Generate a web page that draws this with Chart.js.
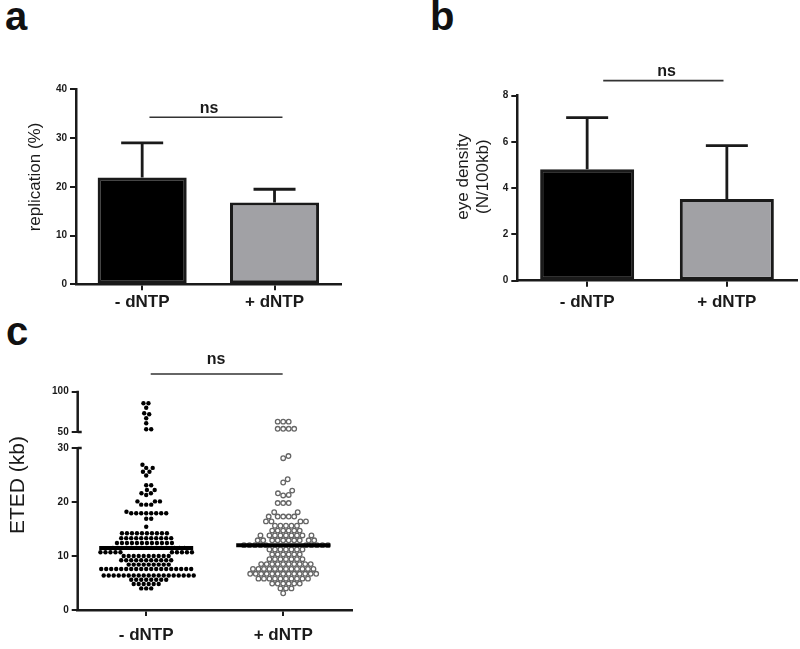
<!DOCTYPE html>
<html>
<head>
<meta charset="utf-8">
<script src="https://cdn.jsdelivr.net/npm/chart.js@4.4.0/dist/chart.umd.min.js"></script>
<style>
  body { margin: 0; background: #fff; width: 800px; height: 649px; overflow: hidden; position: relative;
         font-family: "Liberation Sans", Arial, sans-serif; }
  .tag { position: absolute; font-weight: bold; font-size: 40px; line-height: 1; color: #111; }
  .panel { position: absolute; }
</style>
</head>
<body>
<div class="tag" style="left:5px;top:-4px">a</div>
<div class="tag" style="left:430px;top:-4px">b</div>
<div class="tag" style="left:6px;top:311px">c</div>

<div class="panel" style="left:0;top:60px"><canvas id="chartA" width="400" height="270"></canvas></div>
<div class="panel" style="left:420px;top:60px"><canvas id="chartB" width="380" height="270"></canvas></div>
<div class="panel" style="left:0;top:340px"><canvas id="chartC" width="400" height="309"></canvas></div>

<script>
const categories = ['- dNTP', '+ dNTP'];

// a: replication (%), mean and SD
const replicationMean = [21.9, 16.8];
const replicationSD = [7.1, 2.7];
const replicationTicks = [0, 10, 20, 30, 40];

// b: eye density (N/100kb), mean and SD
const eyeMean = [4.82, 3.53];
const eyeSD = [2.23, 2.31];
const eyeTicks = [0, 2, 4, 6, 8];

// c: ETED (kb), one value per measured distance
const etedMinus = [
  85.6, 85.6, 80.1, 73.2, 72.0, 67.0, 60.8, 53.3, 53.3,
  26.9, 26.3, 26.3, 25.6, 25.6, 24.9,
  23.1, 23.1,
  22.2, 22.2, 21.6, 21.6, 21.3,
  20.1, 20.1, 20.1, 19.5, 19.5, 19.5,
  18.2,
  17.9, 17.9, 17.9, 17.9, 17.9, 17.9, 17.9, 17.9,
  16.9, 16.9,
  15.4,
  14.2, 14.2, 14.2, 14.2, 14.2, 14.2, 14.2, 14.2, 14.2, 14.2,
  13.3, 13.3, 13.3, 13.3, 13.3, 13.3, 13.3, 13.3, 13.3, 13.3, 13.3,
  12.4, 12.4, 12.4, 12.4, 12.4, 12.4, 12.4, 12.4, 12.4, 12.4, 12.4, 12.4,
  11.5, 11.5, 11.5, 11.5, 11.5, 11.5, 11.5, 11.5, 11.5, 11.5, 11.5, 11.5, 11.5, 11.5,
  10.7, 10.7, 10.7, 10.7, 10.7, 10.7, 10.7, 10.7, 10.7, 10.7,
  10.0, 10.0, 10.0, 10.0, 10.0, 10.0, 10.0, 10.0, 10.0, 10.0,
  9.2, 9.2, 9.2, 9.2, 9.2, 9.2, 9.2, 9.2, 9.2, 9.2, 9.2,
  8.4, 8.4, 8.4, 8.4, 8.4, 8.4, 8.4, 8.4, 8.4,
  7.6, 7.6, 7.6, 7.6, 7.6, 7.6, 7.6, 7.6, 7.6, 7.6, 7.6, 7.6, 7.6, 7.6, 7.6, 7.6, 7.6, 7.6, 7.6,
  6.4, 6.4, 6.4, 6.4, 6.4, 6.4, 6.4, 6.4, 6.4, 6.4, 6.4, 6.4, 6.4, 6.4, 6.4, 6.4, 6.4, 6.4, 6.4,
  5.6, 5.6, 5.6, 5.6, 5.6, 5.6, 5.6, 5.6,
  4.8, 4.8, 4.8, 4.8, 4.8, 4.8,
  4.0, 4.0, 4.0
];
const etedPlus = [
  62.8, 62.8, 62.8, 53.9, 53.9, 53.9, 53.9,
  28.5, 28.1,
  24.2, 23.6,
  22.1, 21.6, 21.3, 21.2,
  19.8, 19.8, 19.8,
  18.1, 18.1,
  17.3, 17.3, 17.3, 17.3, 17.3,
  16.4, 16.4, 16.4, 16.4,
  15.6, 15.6, 15.6, 15.6, 15.6,
  14.7, 14.7, 14.7, 14.7, 14.7, 14.7,
  13.8, 13.8, 13.8, 13.8, 13.8, 13.8, 13.8, 13.8, 13.8,
  12.9, 12.9, 12.9, 12.9, 12.9, 12.9, 12.9, 12.9, 12.9, 12.9,
  12.0, 12.0, 12.0, 12.0, 12.0, 12.0, 12.0, 12.0, 12.0, 12.0,
  11.2, 11.2, 11.2, 11.2, 11.2, 11.2, 11.2,
  10.3, 10.3, 10.3, 10.3, 10.3, 10.3,
  9.4, 9.4, 9.4, 9.4, 9.4, 9.4, 9.4,
  8.5, 8.5, 8.5, 8.5, 8.5, 8.5, 8.5, 8.5, 8.5, 8.5,
  7.6, 7.6, 7.6, 7.6, 7.6, 7.6, 7.6, 7.6, 7.6, 7.6, 7.6, 7.6,
  6.7, 6.7, 6.7, 6.7, 6.7, 6.7, 6.7, 6.7, 6.7, 6.7, 6.7, 6.7, 6.7,
  5.8, 5.8, 5.8, 5.8, 5.8, 5.8, 5.8, 5.8, 5.8, 5.8,
  4.9, 4.9, 4.9, 4.9, 4.9, 4.9,
  4.0, 4.0, 4.0,
  3.1
];
const etedMedian = [11.5, 12.0];
const etedTicks = [0, 10, 20, 30, 50, 100];

const INK = '#1a1a1a';
const FONT = '"Liberation Sans", Arial, sans-serif';
Chart.defaults.font.family = FONT;
Chart.defaults.color = INK;
Chart.defaults.animation = false;

// broken y axis for panel c: 0-30 linear, then a gap, then 50-100 compressed
const BREAK_LOW = 30, BREAK_HIGH = 50, BREAK_TOP = 100;
const BREAK_GAP = 2.96;
const HIGH_SCALE = 0.149;
function toAxis(v) {
  return v <= BREAK_LOW ? v : BREAK_LOW + BREAK_GAP + (v - BREAK_HIGH) * HIGH_SCALE;
}

const deco = {
  id: 'deco',
  afterDatasetsDraw(chart, args, o) {
    const { ctx } = chart;
    const x = chart.scales.x, y = chart.scales.y;
    ctx.save();
    ctx.strokeStyle = INK;
    ctx.fillStyle = INK;

    if (o.sd) {
      const ds = chart.data.datasets[0];
      chart.getDatasetMeta(0).data.forEach((bar, i) => {
        const top = y.getPixelForValue(ds.data[i] + o.sd[i]);
        ctx.lineWidth = 2.8;
        ctx.beginPath();
        ctx.moveTo(bar.x, bar.y);
        ctx.lineTo(bar.x, top);
        ctx.moveTo(bar.x - o.cap, top);
        ctx.lineTo(bar.x + o.cap, top);
        ctx.stroke();
      });
    }

    if (o.broken) {
      const ax = chart.chartArea.left;
      ctx.lineWidth = 2.5;
      ctx.beginPath();
      [[0, BREAK_LOW], [BREAK_HIGH, BREAK_TOP]].forEach(([a, b]) => {
        ctx.moveTo(ax, y.getPixelForValue(toAxis(a)) + 1);
        ctx.lineTo(ax, y.getPixelForValue(toAxis(b)) - 1);
      });
      [BREAK_LOW, BREAK_HIGH].forEach(v => {
        const p = y.getPixelForValue(toAxis(v));
        ctx.moveTo(ax, p);
        ctx.lineTo(ax + 4, p);
      });
      ctx.stroke();
    }

    if (o.ns) {
      const ly = y.getPixelForValue(o.ns.y);
      ctx.strokeStyle = '#333';
      ctx.lineWidth = 1.6;
      ctx.beginPath();
      ctx.moveTo(x.getPixelForValue(o.ns.from), ly);
      ctx.lineTo(x.getPixelForValue(o.ns.to), ly);
      ctx.stroke();
      ctx.font = 'bold 16px ' + FONT;
      ctx.textAlign = 'center';
      ctx.textBaseline = 'alphabetic';
      ctx.fillText('ns', x.getPixelForValue(o.ns.textAt), ly - o.ns.lift);
    }

    if (o.title) {
      const t = o.title;
      ctx.font = t.size + 'px ' + FONT;
      ctx.textAlign = 'center';
      ctx.textBaseline = 'middle';
      t.lines.forEach((line, i) => {
        ctx.save();
        ctx.translate(t.x + i * t.lineHeight, t.y);
        ctx.rotate(-Math.PI / 2);
        ctx.fillText(line, 0, 0);
        ctx.restore();
      });
    }
    ctx.restore();
  }
};

function yAxis(ticks, max, width, pad) {
  return {
    min: 0, max,
    afterBuildTicks: s => { s.ticks = ticks.map(v => ({ value: v })); },
    afterFit: s => { s.width = width; },
    border: { color: INK, width: 2.5 },
    grid: { drawOnChartArea: false, drawTicks: true, tickLength: 6, color: INK, lineWidth: 2 },
    ticks: { font: { size: 10, weight: 'bold' }, padding: pad, color: INK }
  };
}

function xCategoryAxis(height, pad) {
  return {
    afterFit: s => { s.height = height; },
    border: { color: INK, width: 2.5 },
    grid: { offset: false, drawOnChartArea: false, drawTicks: true, tickLength: 6, color: INK, lineWidth: 2 },
    ticks: { font: { size: 17, weight: 'bold' }, padding: pad, color: INK, autoSkip: false, maxRotation: 0 }
  };
}

function barPanel(id, mean, sd, ticks, max, cfg) {
  return new Chart(document.getElementById(id), {
    type: 'bar',
    data: {
      labels: categories,
      datasets: [{
        data: mean,
        backgroundColor: ['#000000', '#a1a1a5'],
        borderColor: INK,
        borderWidth: 3,
        borderSkipped: false,
        barPercentage: 0.673,
        categoryPercentage: 1
      }]
    },
    options: {
      responsive: false,
      layout: { padding: cfg.padding },
      plugins: {
        legend: { display: false },
        tooltip: { enabled: false },
        deco: { sd, cap: 21, ns: cfg.ns, title: cfg.title }
      },
      scales: {
        x: xCategoryAxis(cfg.xHeight, cfg.xPad),
        y: yAxis(ticks, max, cfg.yWidth, 3)
      }
    },
    plugins: [deco]
  });
}

barPanel('chartA', replicationMean, replicationSD, replicationTicks, 40, {
  padding: { top: 29.3, right: 59.3, left: 0, bottom: 0 },
  yWidth: 76, xHeight: 45.7, xPad: 2,
  ns: { y: 34.26, from: 0.055, to: 1.06, textAt: 0.505, lift: 4 },
  title: { lines: ['replication (%)'], x: 35, y: 117, size: 17, lineHeight: 20 }
});

barPanel('chartB', eyeMean, eyeSD, eyeTicks, 8, {
  padding: { top: 35.7, right: 3.3, left: 0, bottom: 0 },
  yWidth: 97.3, xHeight: 49.3, xPad: 5.4,
  ns: { y: 8.65, from: 0.115, to: 0.976, textAt: 0.568, lift: 4.5 },
  title: { lines: ['eye density', '(N/100kb)'], x: 43, y: 116.7, size: 17, lineHeight: 20 }
});

// panel c: scatter dot plot with median
const MED_HALF = 0.343;
const chartC = new Chart(document.getElementById('chartC'), {
  type: 'scatter',
  data: {
    datasets: [
      ...etedMedian.map((m, i) => ({
        type: 'line',
        data: [{ x: i + 0.5 - MED_HALF, y: toAxis(m) }, { x: i + 0.5 + MED_HALF, y: toAxis(m) }],
        borderColor: '#000', borderWidth: 4, pointRadius: 0, order: 0
      })),
      {
        data: etedMinus.map(v => ({ x: 0.5, y: toAxis(v) })),
        pointRadius: 2.2, backgroundColor: '#000', borderWidth: 0, order: 1
      },
      {
        data: etedPlus.map(v => ({ x: 1.5, y: toAxis(v) })),
        pointRadius: 2.3, backgroundColor: '#fff', borderColor: '#666', borderWidth: 1.3, order: 1
      }
    ]
  },
  options: {
    responsive: false,
    layout: { padding: { top: 51.7, right: 48.3, left: 0, bottom: 0 } },
    plugins: {
      legend: { display: false },
      tooltip: { enabled: false },
      deco: {
        broken: true,
        ns: { y: 43.7, from: 0.533, to: 1.496, textAt: 1.01, lift: 10 },
        title: { lines: ['ETED (kb)'], x: 18, y: 145, size: 21, lineHeight: 24 }
      }
    },
    scales: {
      x: {
        type: 'linear', min: 0, max: 2,
        afterBuildTicks: s => { s.ticks = categories.map((c, i) => ({ value: i + 0.5 })); },
        afterFit: s => { s.height = 39; },
        border: { color: INK, width: 2.5 },
        grid: { drawOnChartArea: false, drawTicks: true, tickLength: 6, color: INK, lineWidth: 2 },
        ticks: { font: { size: 17, weight: 'bold' }, padding: 9.5, color: INK, autoSkip: false, maxRotation: 0,
                 callback: (v, i) => categories[i] }
      },
      y: {
        min: 0, max: toAxis(BREAK_TOP),
        afterBuildTicks: s => { s.ticks = etedTicks.map(v => ({ value: toAxis(v) })); },
        afterFit: s => { s.width = 77.7; },
        border: { display: false },
        grid: { drawOnChartArea: false, drawTicks: true, tickLength: 6, color: INK, lineWidth: 2 },
        ticks: { font: { size: 10, weight: 'bold' }, padding: 3, color: INK, autoSkip: false,
                 callback: (v, i) => etedTicks[i] }
      }
    }
  },
  plugins: [deco]
});

// spread each group's dots sideways so they do not overlap (beeswarm)
function swarm(values, center, gap) {
  const xs = chartC.scales.x, ys = chartC.scales.y;
  const cx = xs.getPixelForValue(center);
  const placed = [];
  const out = new Array(values.length);
  const order = values.map((v, i) => i).sort((a, b) => values[a] - values[b]);
  for (const i of order) {
    const py = ys.getPixelForValue(toAxis(values[i]));
    let off = 0;
    for (let k = 0; k < 1000; k++) {
      const cand = (k % 2 ? 1 : -1) * Math.ceil(k / 2) * 0.25;
      if (placed.every(p => (p.x - cand) ** 2 + (p.y - py) ** 2 >= gap * gap)) { off = cand; break; }
    }
    placed.push({ x: off, y: py });
    out[i] = { x: xs.getValueForPixel(cx + off), y: toAxis(values[i]) };
  }
  return out;
}

chartC.data.datasets[2].data = swarm(etedMinus, 0.5, 4.9);
chartC.data.datasets[3].data = swarm(etedPlus, 1.5, 5.5);
chartC.update('none');
</script>
</body>
</html>
